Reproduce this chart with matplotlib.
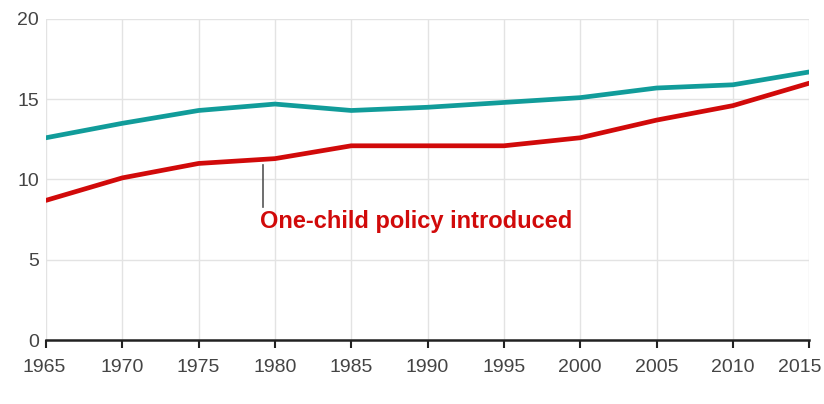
import matplotlib.pyplot as plt
from matplotlib.transforms import ScaledTranslation

plt.rcParams['font.family'] = ['Liberation Sans', 'DejaVu Sans']

# ==========================================================
# Data
# ==========================================================

years = [1965, 1970, 1975, 1980, 1985, 1990, 1995, 2000, 2005, 2010, 2015]
teal_values = [12.6, 13.5, 14.3, 14.7, 14.3, 14.5, 14.8, 15.1, 15.7, 15.9, 16.7]
red_values = [8.7, 10.1, 11.0, 11.3, 12.1, 12.1, 12.1, 12.6, 13.7, 14.6, 16.0]

y_ticks = [0, 5, 10, 15, 20]
annotation_year = 1979.2
annotation_text = "One-child policy introduced"

# ==========================================================
# Plot
# ==========================================================

fig = plt.figure(figsize=(8.24, 4.04), dpi=100)
ax = fig.add_axes([0.0558, 0.1584, 0.9262, 0.7946])

ax.plot(years, teal_values, color="#119c9a", linewidth=3.4,
        solid_capstyle="round", zorder=3)
ax.plot(years, red_values, color="#d10a0a", linewidth=3.4,
        solid_capstyle="round", zorder=3)

ax.set_xlim(years[0], years[-1])
ax.set_ylim(0, 20)
ax.set_xticks(years)
ax.set_yticks(y_ticks)

ax.grid(True, color="#e3e3e3", linewidth=1)
ax.set_axisbelow(True)

for side in ["top", "right", "left"]:
    ax.spines[side].set_visible(False)
ax.spines["bottom"].set_color("#222222")
ax.spines["bottom"].set_linewidth(1.8)

ax.tick_params(axis="x", length=6, width=1.5, color="#222222",
               labelsize=14, labelcolor="#444444", pad=8)
ax.tick_params(axis="y", length=0, labelsize=14, labelcolor="#444444", pad=5)

# nudge first and last year labels so they stay inside the picture
labels = ax.get_xticklabels()
labels[0].set_transform(labels[0].get_transform()
                        + ScaledTranslation(-2 / 100, 0, fig.dpi_scale_trans))
labels[-1].set_transform(labels[-1].get_transform()
                         + ScaledTranslation(-9 / 100, 0, fig.dpi_scale_trans))

# annotation
ax.plot([annotation_year, annotation_year], [10.9, 8.3],
        color="#555555", linewidth=1.2, zorder=2)
ax.text(annotation_year - 0.2, 7.4, annotation_text, color="#d10a0a",
        fontsize=17, fontweight="bold", ha="left", va="center")

fig.savefig("out.png", dpi=100)
